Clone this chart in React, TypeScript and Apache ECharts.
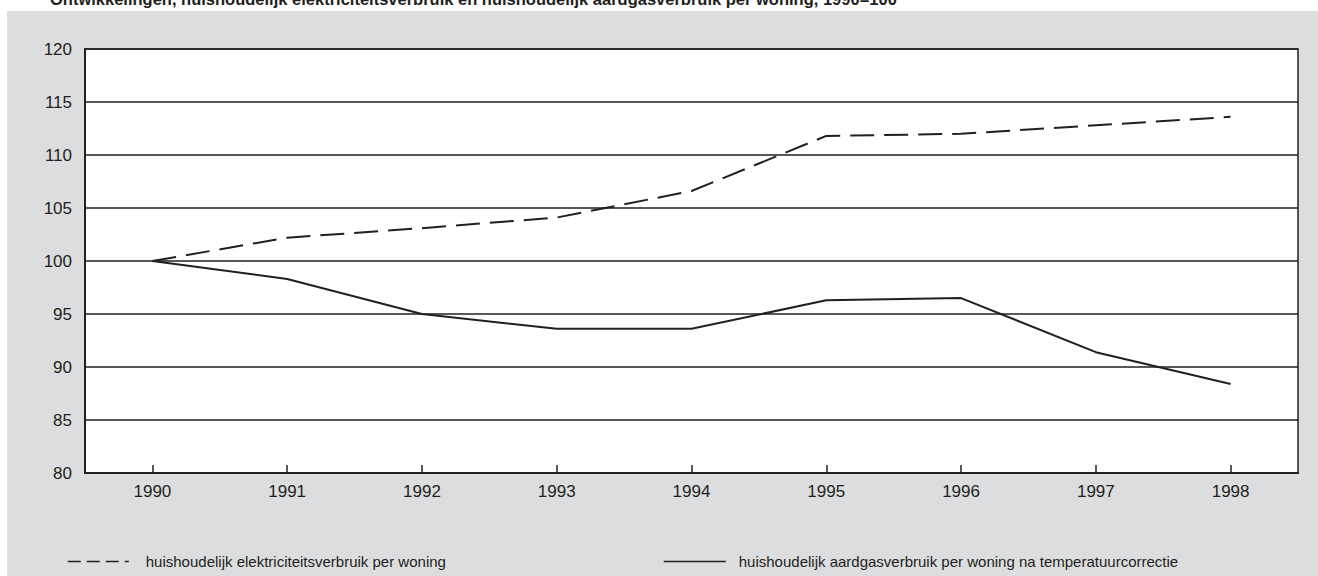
import React, { useEffect, useRef } from "react";
import * as echarts from "echarts";

const years = ["1990", "1991", "1992", "1993", "1994", "1995", "1996", "1997", "1998"];
const elektriciteit = [100, 102.2, 103.1, 104.1, 106.6, 111.8, 112.0, 112.8, 113.6];
const aardgas = [100, 98.3, 95.0, 93.6, 93.6, 96.3, 96.5, 91.4, 88.4];
const nameElek = "huishoudelijk elektriciteitsverbruik per woning";
const nameGas = "huishoudelijk aardgasverbruik per woning na temperatuurcorrectie";
const title = "Ontwikkelingen, huishoudelijk elektriciteitsverbruik en huishoudelijk aardgasverbruik per woning, 1990=100";

const FONT = "'Liberation Sans', Arial, sans-serif";
const INK = "#231f20";

export default function App() {
  const ref = useRef<HTMLDivElement>(null);
  useEffect(() => {
    if (!ref.current) return;
    const chart = echarts.init(ref.current, null, { renderer: "svg" });
    chart.setOption({
      animation: false,
      backgroundColor: "#ffffff",
      graphic: [
        {
          type: "rect",
          z: -10,
          silent: true,
          shape: { x: 7, y: 11, width: 1311, height: 565 },
          style: { fill: "#dcdddf" },
        },
        {
          type: "text",
          x: 50,
          y: 7,
          style: {
            text: title,
            font: `bold 16.5px ${FONT}`,
            fill: INK,
            textVerticalAlign: "bottom",
          },
        },
      ],
      grid: {
        left: 85,
        top: 49,
        right: 20,
        bottom: 103,
        show: true,
        backgroundColor: "#ffffff",
        borderColor: INK,
        borderWidth: 1.5,
        containLabel: false,
      },
      legend: [
        {
          left: 67,
          top: 554,
          padding: 0,
          itemWidth: 61,
          itemHeight: 14,
          data: [
            {
              name: nameElek,
              lineStyle: { type: [13, 6], width: 1.5 },
              itemStyle: { color: "transparent", borderWidth: 0, opacity: 0 },
            },
          ],
          textStyle: { fontFamily: FONT, fontSize: 15, color: INK, padding: [0, 0, 0, 12] },
        },
        {
          left: 663,
          top: 554,
          padding: 0,
          itemWidth: 62,
          itemHeight: 14,
          data: [
            {
              name: nameGas,
              lineStyle: { width: 1.5 },
              itemStyle: { color: "transparent", borderWidth: 0, opacity: 0 },
            },
          ],
          textStyle: { fontFamily: FONT, fontSize: 15, color: INK, padding: [0, 0, 0, 8] },
        },
      ],
      xAxis: {
        type: "category",
        data: years,
        boundaryGap: true,
        axisLine: { show: true, lineStyle: { color: INK, width: 2 } },
        axisTick: { show: true, inside: true, alignWithLabel: true, length: 8, lineStyle: { color: INK, width: 1.5 } },
        axisLabel: { fontFamily: FONT, fontSize: 17, color: INK, margin: 10 },
        splitLine: { show: false },
      },
      yAxis: {
        type: "value",
        min: 80,
        max: 120,
        interval: 5,
        axisLine: { show: true, lineStyle: { color: INK, width: 2 } },
        axisTick: { show: false },
        axisLabel: { fontFamily: FONT, fontSize: 17, color: INK, margin: 13 },
        splitLine: { show: true, lineStyle: { color: INK, width: 1.5 } },
      },
      series: [
        {
          name: nameElek,
          type: "line",
          data: elektriciteit,
          symbol: "none",
          lineStyle: { color: INK, width: 2, type: [24, 10] },
          itemStyle: { color: INK },
        },
        {
          name: nameGas,
          type: "line",
          data: aardgas,
          symbol: "none",
          lineStyle: { color: INK, width: 2, type: "solid" },
          itemStyle: { color: INK },
        },
      ],
    });
    return () => chart.dispose();
  }, []);
  return (
    <div
      ref={ref}
      style={{ position: "absolute", left: 0, top: 0, width: 1318, height: 576 }}
    />
  );
}
